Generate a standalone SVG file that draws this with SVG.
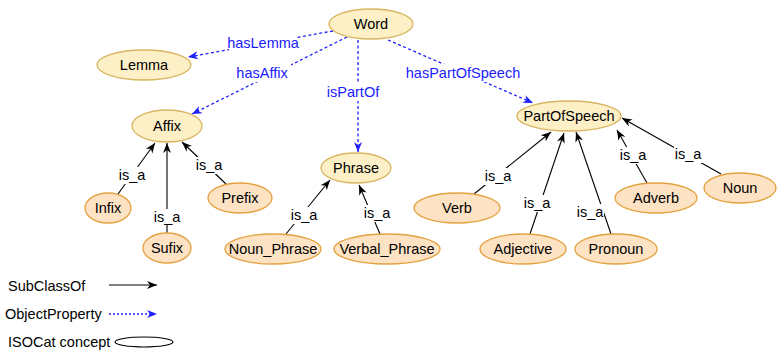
<svg xmlns="http://www.w3.org/2000/svg" width="777" height="352" viewBox="0 0 777 352">
<defs>
<style>
text{font-family:"Liberation Sans",Arial,sans-serif;font-size:14.5px;text-anchor:middle;dominant-baseline:central}
.top ellipse{fill:#fdf0c6;stroke:#d9b560;stroke-width:1.3}
.leaf ellipse{fill:#fde2c4;stroke:#e3a23f;stroke-width:1.3}
.isa{stroke:#000;stroke-width:1.1;fill:none;marker-end:url(#ab)}
.op{stroke:#2020ff;stroke-width:1.3;stroke-dasharray:3 2.5;fill:none;marker-end:url(#au)}
.lb{fill:#000}
.lu{fill:#2020ff}
.bg{fill:#fff}
</style>
<marker id="ab" markerUnits="userSpaceOnUse" markerWidth="12" markerHeight="12" refX="10" refY="5" orient="auto" viewBox="0 0 12 10">
<path d="M0,1 L10,5 L0,9 L3,5 Z" fill="#000"/>
</marker>
<marker id="au" markerUnits="userSpaceOnUse" markerWidth="12" markerHeight="12" refX="10" refY="5" orient="auto" viewBox="0 0 12 10">
<path d="M0,1 L10,5 L0,9 L3,5 Z" fill="#2020ff"/>
</marker>
</defs>
<rect width="777" height="352" fill="#fff"/>
<g id="connectors">
<line class="op" x1="333" y1="31" x2="188" y2="57"/>
<line class="op" x1="347" y1="37" x2="192" y2="114"/>
<line class="op" x1="358" y1="40" x2="358" y2="152"/>
<line class="op" x1="388" y1="40" x2="533" y2="103"/>
<line class="isa" x1="118" y1="194" x2="155" y2="143"/>
<line class="isa" x1="167" y1="233" x2="167" y2="143"/>
<line class="isa" x1="226" y1="184" x2="182" y2="142"/>
<line class="isa" x1="286" y1="234" x2="330" y2="180"/>
<line class="isa" x1="380" y1="234" x2="359" y2="185"/>
<line class="isa" x1="474" y1="194" x2="551" y2="132"/>
<line class="isa" x1="530" y1="234" x2="564" y2="133"/>
<line class="isa" x1="611" y1="234" x2="576" y2="132"/>
<line class="isa" x1="647" y1="183" x2="617" y2="130"/>
<line class="isa" x1="721" y1="174" x2="622" y2="118"/>
<rect class="bg" x="229" y="34" width="68" height="18"/>
<rect class="bg" x="233" y="64" width="58" height="18"/>
<rect class="bg" x="325" y="83" width="56" height="18"/>
<rect class="bg" x="407" y="64" width="112" height="18"/>
<rect class="bg" x="118" y="167" width="28" height="17"/>
<rect class="bg" x="153" y="209" width="28" height="16"/>
<rect class="bg" x="195" y="157" width="28" height="17"/>
<rect class="bg" x="290" y="207" width="28" height="17"/>
<rect class="bg" x="363" y="205" width="28" height="17"/>
<rect class="bg" x="484" y="168" width="28" height="17"/>
<rect class="bg" x="523" y="195" width="28" height="17"/>
<rect class="bg" x="576" y="204" width="28" height="17"/>
<rect class="bg" x="619" y="147" width="28" height="17"/>
<rect class="bg" x="674" y="146" width="28" height="17"/>
<text class="lu" x="263" y="43">hasLemma</text>
<text class="lu" x="262" y="73">hasAffix</text>
<text class="lu" x="353" y="92">isPartOf</text>
<text class="lu" x="463" y="73">hasPartOfSpeech</text>
<text class="lb" x="132" y="175">is_a</text>
<text class="lb" x="167" y="217">is_a</text>
<text class="lb" x="209" y="165">is_a</text>
<text class="lb" x="304" y="215">is_a</text>
<text class="lb" x="377" y="213">is_a</text>
<text class="lb" x="498" y="176">is_a</text>
<text class="lb" x="537" y="203">is_a</text>
<text class="lb" x="590" y="212">is_a</text>
<text class="lb" x="633" y="155">is_a</text>
<text class="lb" x="688" y="154">is_a</text>
</g>
<g id="Word" class="top"><ellipse cx="371" cy="24" rx="42" ry="15"/><text x="371" y="24">Word</text></g>
<g id="Lemma" class="top"><ellipse cx="144" cy="65" rx="47" ry="15"/><text x="144" y="65">Lemma</text></g>
<g id="Affix" class="top"><ellipse cx="167" cy="126" rx="35" ry="16"/><text x="167" y="126">Affix</text></g>
<g id="Phrase" class="top"><ellipse cx="356" cy="168" rx="35" ry="15"/><text x="356" y="168">Phrase</text></g>
<g id="PartOfSpeech" class="top"><ellipse cx="569" cy="116" rx="52" ry="15"/><text x="569" y="116">PartOfSpeech</text></g>
<g id="Infix" class="leaf"><ellipse cx="108" cy="208" rx="23" ry="15"/><text x="108" y="208">Infix</text></g>
<g id="Sufix" class="leaf"><ellipse cx="167" cy="248" rx="24" ry="15"/><text x="167" y="248">Sufix</text></g>
<g id="Prefix" class="leaf"><ellipse cx="240" cy="198" rx="32" ry="15"/><text x="240" y="198">Prefix</text></g>
<g id="Noun_Phrase" class="leaf"><ellipse cx="273" cy="249" rx="48" ry="15"/><text x="273" y="249">Noun_Phrase</text></g>
<g id="Verbal_Phrase" class="leaf"><ellipse cx="387" cy="249" rx="53" ry="15"/><text x="387" y="249">Verbal_Phrase</text></g>
<g id="Verb" class="leaf"><ellipse cx="457" cy="208" rx="43" ry="15"/><text x="457" y="208">Verb</text></g>
<g id="Adjective" class="leaf"><ellipse cx="523" cy="249" rx="43" ry="15"/><text x="523" y="249">Adjective</text></g>
<g id="Pronoun" class="leaf"><ellipse cx="616" cy="249" rx="41" ry="15"/><text x="616" y="249">Pronoun</text></g>
<g id="Adverb" class="leaf"><ellipse cx="656" cy="198" rx="41" ry="15"/><text x="656" y="198">Adverb</text></g>
<g id="Noun" class="leaf"><ellipse cx="740" cy="188" rx="36" ry="15"/><text x="740" y="188">Noun</text></g>
<g id="legend">
<text x="8" y="286" style="text-anchor:start">SubClassOf</text>
<line class="isa" x1="109" y1="285" x2="157" y2="285"/>
<text x="5" y="314" style="text-anchor:start">ObjectProperty</text>
<line class="op" x1="109" y1="314" x2="157" y2="314" style="stroke-dasharray:2 2"/>
<text x="8" y="342" style="text-anchor:start">ISOCat concept</text>
<ellipse cx="144" cy="342" rx="29" ry="5" fill="none" stroke="#000" stroke-width="1.1"/>
</g>
</svg>
